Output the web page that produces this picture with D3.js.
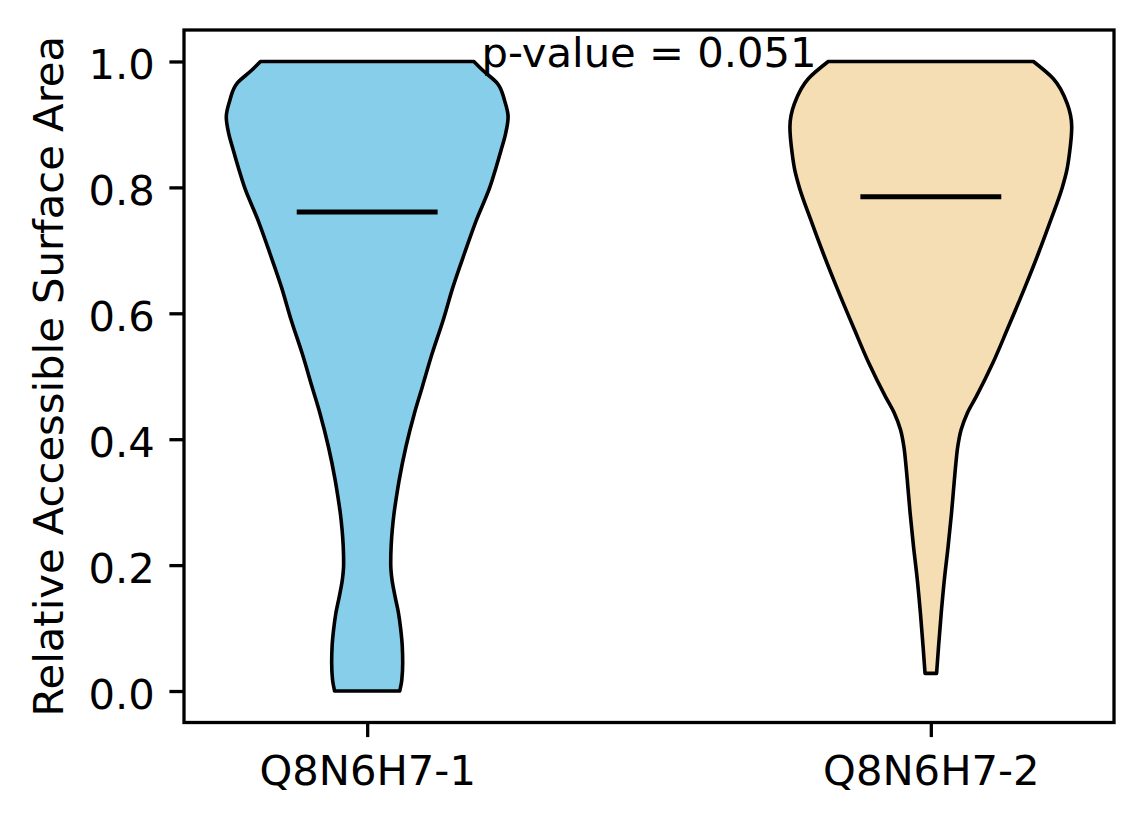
<!DOCTYPE html>
<html lang="en">
<head>
    <meta charset="utf-8">
    <title>Relative Accessible Surface Area</title>
    <script src="https://cdn.jsdelivr.net/npm/d3@7"></script>
    <style>
        body { margin: 0; background: #fff; }
        text { font-family: "DejaVu Sans", sans-serif; }
    </style>
</head>
<body>
    <div id="chart"></div>
    <script>
        // groups and their summary values
        const groups = ["Q8N6H7-1", "Q8N6H7-2"];
        const positions = [1, 2];
        const medians = [0.761, 0.785];
        const pValueText = "p-value = 0.051";
        const yTicks = [0.0, 0.2, 0.4, 0.6, 0.8, 1.0];

        // kde profile (value, relative density)
        const values1 = [0.0, 0.018, 0.045, 0.071, 0.098, 0.124, 0.150, 0.177, 0.203, 0.230, 0.256, 0.283, 0.309, 0.335, 0.388, 0.441, 0.483, 0.536, 0.589, 0.642, 0.695, 0.748, 0.800, 0.832, 0.859, 0.885, 0.912, 0.938, 0.965, 0.986, 1.0];
        const density1 = [0.231, 0.246, 0.252, 0.249, 0.238, 0.222, 0.198, 0.176, 0.167, 0.170, 0.178, 0.191, 0.208, 0.227, 0.275, 0.335, 0.391, 0.461, 0.539, 0.609, 0.690, 0.775, 0.870, 0.915, 0.950, 0.982, 1.0, 0.975, 0.925, 0.820, 0.757];

        const values2 = [0.028, 0.071, 0.124, 0.177, 0.230, 0.283, 0.335, 0.362, 0.388, 0.415, 0.441, 0.468, 0.521, 0.573, 0.642, 0.695, 0.748, 0.800, 0.827, 0.854, 0.896, 0.933, 0.973, 1.0];
        const density2 = [0.041, 0.055, 0.074, 0.096, 0.123, 0.147, 0.167, 0.178, 0.191, 0.215, 0.258, 0.323, 0.440, 0.540, 0.669, 0.763, 0.851, 0.933, 0.965, 0.984, 1.0, 0.968, 0.868, 0.728];

        const profiles = [
            values1.map((v, i) => [v, density1[i]]),
            values2.map((v, i) => [v, density2[i]])
        ];
        const fills = ["#87CEEB", "#F5DEB3"];

        const width = 1144, height = 824;
        const plotLeft = 184, plotRight = 1114, plotTop = 30, plotBottom = 722.5;
        const fontSize = 41.7;

        const svg = d3.select("#chart").append("svg")
            .attr("width", width)
            .attr("height", height);

        const x = d3.scaleLinear().domain([0.675, 2.325]).range([plotLeft, plotRight]);
        const y = d3.scaleLinear().domain([-0.05, 1.05]).range([plotBottom, plotTop]);
        // violin half width: max density -> 0.25 x units
        const w = d3.scaleLinear().domain([0, 1]).range([0, 0.25]);

        // violins
        profiles.forEach(function (prof, i) {
            const pos = positions[i];
            const area = d3.area()
                .y(d => y(d[0]))
                .x0(d => x(pos - w(d[1])))
                .x1(d => x(pos + w(d[1])))
                .curve(d3.curveMonotoneY);
            svg.append("path")
                .datum(prof)
                .attr("d", area)
                .attr("fill", fills[i])
                .attr("stroke", "#000")
                .attr("stroke-width", 3.6)
                .attr("stroke-linejoin", "round");
        });

        // median lines
        svg.selectAll(".median")
            .data(medians)
            .enter().append("line")
            .attr("class", "median")
            .attr("x1", (d, i) => x(positions[i] - 0.125))
            .attr("x2", (d, i) => x(positions[i] + 0.125))
            .attr("y1", d => y(d))
            .attr("y2", d => y(d))
            .attr("stroke", "#000")
            .attr("stroke-width", 5);

        // y axis
        const yAxis = svg.append("g")
            .attr("transform", `translate(${plotLeft},0)`)
            .call(d3.axisLeft(y).tickValues(yTicks).tickFormat(d3.format(".1f"))
                .tickSize(14.6).tickPadding(14.6));
        yAxis.select(".domain").remove();
        yAxis.selectAll(".tick line").attr("stroke-width", 3.3);
        yAxis.selectAll(".tick text")
            .attr("font-size", fontSize)
            .attr("font-family", "DejaVu Sans")
            .attr("dy", "0.42em");

        // x axis
        const xAxis = svg.append("g")
            .attr("transform", `translate(0,${plotBottom})`)
            .call(d3.axisBottom(x).tickValues(positions).tickFormat((d, i) => groups[i])
                .tickSize(14.6).tickPadding(14.6));
        xAxis.select(".domain").remove();
        xAxis.selectAll(".tick line").attr("stroke-width", 3.3);
        xAxis.selectAll(".tick text")
            .attr("font-size", fontSize)
            .attr("font-family", "DejaVu Sans")
            .attr("y", 62.5)
            .attr("dy", 0);

        // frame
        svg.append("rect")
            .attr("x", plotLeft)
            .attr("y", plotTop)
            .attr("width", plotRight - plotLeft)
            .attr("height", plotBottom - plotTop)
            .attr("fill", "none")
            .attr("stroke", "#000")
            .attr("stroke-width", 3.3);

        // y label
        svg.append("text")
            .attr("transform", `translate(63,${(plotTop + plotBottom) / 2}) rotate(-90)`)
            .attr("text-anchor", "middle")
            .attr("font-size", fontSize)
            .text("Relative Accessible Surface Area");

        // p-value annotation
        svg.append("text")
            .attr("x", x(1.5))
            .attr("y", 67)
            .attr("text-anchor", "middle")
            .attr("font-size", fontSize)
            .text(pValueText);
    </script>
</body>
</html>
